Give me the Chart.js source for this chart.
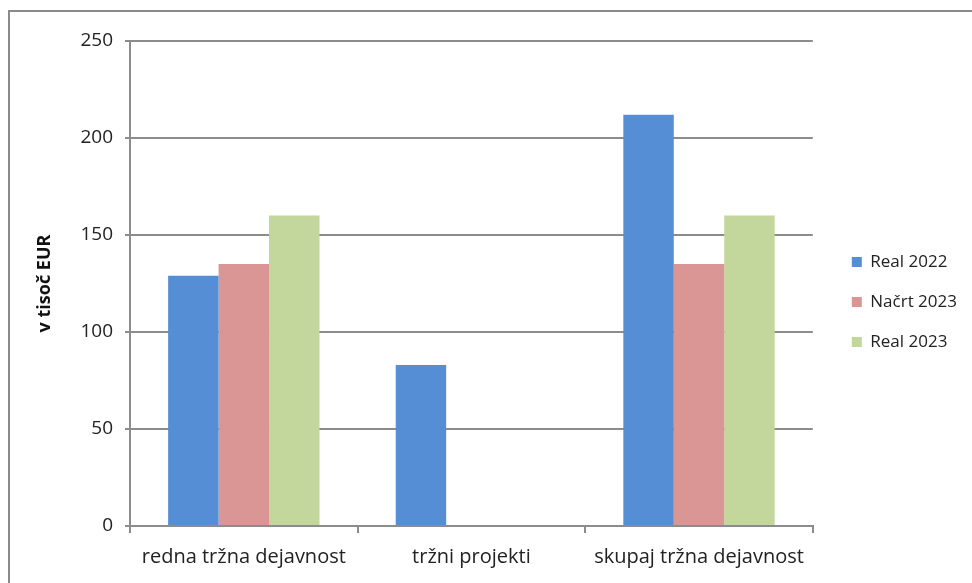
<!DOCTYPE html>
<html>
<head>
<meta charset="utf-8">
<script src="https://cdn.jsdelivr.net/npm/chart.js@4"></script>
<style>
  html, body { margin: 0; padding: 0; background: #fff; overflow: hidden; }
  #wrap { position: relative; width: 972px; height: 583px; }
  #frame { position: absolute; left: 8px; top: 10px; width: 1100px; height: 1000px; border: 2px solid #8a8a8a; pointer-events: none; }
  canvas { position: absolute; left: 0; top: 0; }
</style>
</head>
<body>
<div id="wrap">
  <div id="frame"></div>
  <canvas id="chart" width="972" height="583"></canvas>
</div>
<script>
// kategorije in vrednosti (v tisoč EUR)
const categories = ['redna tržna dejavnost', 'tržni projekti', 'skupaj tržna dejavnost'];
const seriesNames = ['Real 2022', 'Načrt 2023', 'Real 2023'];
const real2022 = [129, 83, 212];
const nacrt2023 = [135, null, 135];
const real2023 = [160, null, 160];
const yTicks = [0, 50, 100, 150, 200, 250];

const colors = ['#558ed5', '#d99694', '#c3d69b'];
const gridColor = '#8c8c8c';
const fontFamily = "'Open Sans', 'Liberation Sans', sans-serif";

const ctx = document.getElementById('chart').getContext('2d');

// legenda malo višje kot privzeto sredinsko poravnavo
const legendShift = {
    id: 'legendShift',
    afterLayout(chart) {
        chart.legend.top -= 9;
        chart.legend.bottom -= 9;
    }
};

new Chart(ctx, {
    type: 'bar',
    data: {
        labels: categories,
        datasets: [real2022, nacrt2023, real2023].map((vals, i) => ({
            label: seriesNames[i],
            data: vals,
            backgroundColor: colors[i],
            borderWidth: 0,
            categoryPercentage: 0.665,
            barPercentage: 1.0
        }))
    },
    plugins: [legendShift],
    options: {
        responsive: false,
        animation: false,
        layout: { padding: { left: 0, right: 5, top: 41, bottom: 2 } },
        plugins: {
            tooltip: { enabled: false },
            legend: {
                position: 'right',
                align: 'center',
                labels: {
                    color: '#222',
                    font: { family: fontFamily, size: 17 },
                    boxWidth: 10,
                    boxHeight: 10,
                    padding: 23
                }
            }
        },
        scales: {
            x: {
                grid: {
                    drawOnChartArea: false,
                    drawTicks: true,
                    tickLength: 7,
                    color: gridColor,
                    lineWidth: 2
                },
                border: { color: gridColor, width: 2 },
                ticks: {
                    color: '#222',
                    font: { family: fontFamily, size: 20 },
                    padding: 12,
                    maxRotation: 0
                }
            },
            y: {
                min: 0,
                max: 250,
                afterBuildTicks: axis => { axis.ticks = yTicks.map(v => ({ value: v })); },
                afterFit: axis => { axis.width = 130; },
                grid: {
                    color: gridColor,
                    lineWidth: 2,
                    tickLength: 5
                },
                border: { color: gridColor, width: 2 },
                ticks: {
                    color: '#222',
                    font: { family: fontFamily, size: 19 },
                    padding: 12
                },
                title: {
                    display: true,
                    text: 'v tisoč EUR',
                    color: '#111',
                    font: { family: fontFamily, size: 18, weight: 'bold' },
                    padding: { top: 34, bottom: 0 }
                }
            },
            // prazen prostor med grafom in legendo
            gap: {
                position: 'right',
                display: true,
                grid: { display: false },
                border: { display: false },
                ticks: { display: false },
                afterFit: axis => { axis.width = 16; }
            }
        }
    }
});
</script>
</body>
</html>
